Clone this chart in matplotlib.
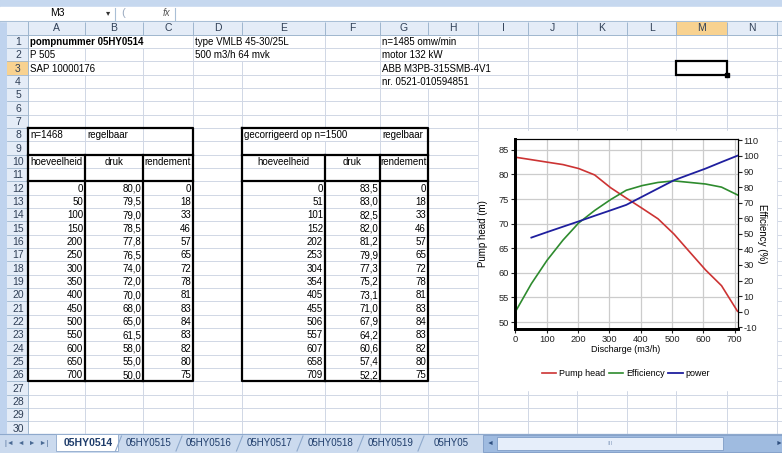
import matplotlib
matplotlib.use("Agg")
import matplotlib.pyplot as plt
from matplotlib.patches import Rectangle
from matplotlib.collections import LineCollection

plt.rcParams["font.family"] = ["Liberation Sans", "DejaVu Sans"]
plt.rcParams["axes.unicode_minus"] = False

# -----------------------------------------------------------------------------
# DATA  (pump 05HY0514)
# -----------------------------------------------------------------------------
flow_1468 = [0, 50, 100, 150, 200, 250, 300, 350, 400, 450, 500, 550, 600, 650, 700]
head_1468 = [80.0, 79.5, 79.0, 78.5, 77.8, 76.5, 74.0, 72.0, 70.0, 68.0, 65.0, 61.5, 58.0, 55.0, 50.0]
efficiency = [0, 18, 33, 46, 57, 65, 72, 78, 81, 83, 84, 83, 82, 80, 75]

flow_1500 = [0, 51, 101, 152, 202, 253, 304, 354, 405, 455, 506, 557, 607, 658, 709]
head_1500 = [83.5, 83.0, 82.5, 82.0, 81.2, 79.9, 77.3, 75.2, 73.1, 71.0, 67.9, 64.2, 60.6, 57.4, 52.2]

power_flow = flow_1500[1:]
power = [47.6, 51.1, 54.6, 58.0, 61.6, 65.1, 68.6, 73.9, 79.1, 84.4, 88.2, 91.9, 96.1, 100.2]

info_cells = [
    (1, "A", "pompnummer 05HY0514", True),
    (1, "D", "type VMLB 45-30/25L", False),
    (1, "G", "n=1485 omw/min", False),
    (2, "A", "P 505", False),
    (2, "D", "500 m3/h 64 mvk", False),
    (2, "G", "motor 132 kW", False),
    (3, "A", "SAP 10000176", False),
    (3, "G", "ABB M3PB-315SMB-4V1", False),
    (4, "G", "nr. 0521-010594851", False),
]
sheet_tabs = ["05HY0514", "05HY0515", "05HY0516", "05HY0517", "05HY0518", "05HY0519", "05HY05"]
col_letters = list("ABCDEFGHIJKLMN")

# -----------------------------------------------------------------------------
# SHEET GEOMETRY (pixels)
# -----------------------------------------------------------------------------
W, H = 782, 453
col_edges = [28, 85, 143, 193, 242, 325, 380, 428, 478, 528, 577, 627, 676, 727, 777, 830]
ROW0, ROWH = 34.8, 13.33
N_ROWS = 30
GRID = "#d0d7e5"
HDR_FILL = "#e4ecf7"
HDR_LINE = "#9eb6ce"
HDR_TEXT = "#2f3f56"
SEL_FILL = "#f8d290"
FS = 7


def col_x(letter):
    i = col_letters.index(letter)
    return col_edges[i], col_edges[i + 1]


def row_y(r):
    top = ROW0 + (r - 1) * ROWH
    return top, top + ROWH


fig = plt.figure(figsize=(W / 100, H / 100), dpi=100)
fig.patch.set_facecolor("#bfd3ee")
sh = fig.add_axes([0, 0, 1, 1])
sh.set_xlim(0, W)
sh.set_ylim(H, 0)
sh.axis("off")

# window chrome: top band, formula bar
sh.add_patch(Rectangle((0, 0), W, 7, color="#c6d8ef", zorder=0))
sh.add_patch(Rectangle((0, 7), W, 14, color="white", zorder=1))
sh.plot([0, W], [20.5, 20.5], color="#a9bfd6", lw=0.8, zorder=2)
sh.plot([115, 115], [8, 20], color="#a9bfd6", lw=0.8, zorder=2)
sh.plot([175, 175], [8, 20], color="#a9bfd6", lw=0.8, zorder=2)
sh.text(57, 13.5, "M3", fontsize=7.5, ha="center", va="center", zorder=3)
sh.text(108, 13.5, "\u25be", fontsize=6, ha="center", va="center", color="#333333", zorder=3)
sh.text(123, 13.5, "(", fontsize=8, ha="center", va="center", color="#9aaac0", zorder=3)
sh.text(166, 13.5, "fx", fontsize=7, style="italic", ha="center", va="center", color="#555555", zorder=3)

# cell area
sh.add_patch(Rectangle((28, 21), W - 28, 413, color="white", zorder=1))

# column headers
sh.add_patch(Rectangle((7, 21.5), W - 7, 13.3, facecolor=HDR_FILL, edgecolor="none", zorder=2))
for i, letter in enumerate(col_letters):
    x0, x1 = col_edges[i], col_edges[i + 1]
    if letter == "M":
        sh.add_patch(Rectangle((x0, 21.5), x1 - x0, 13.3, facecolor=SEL_FILL, edgecolor="none", zorder=2))
    sh.text((x0 + x1) / 2, 28.3, letter, fontsize=7.5, ha="center", va="center", color=HDR_TEXT, zorder=4)
hdr_lines = [[(x, 21.5), (x, 34.8)] for x in col_edges]
sh.add_collection(LineCollection(hdr_lines, colors=HDR_LINE, linewidths=0.7, zorder=3))
sh.plot([7, W], [34.8, 34.8], color=HDR_LINE, lw=0.7, zorder=3)

# row headers
for r in range(1, N_ROWS + 1):
    y0, y1 = row_y(r)
    fill = SEL_FILL if r == 3 else HDR_FILL
    sh.add_patch(Rectangle((7, y0), 21, ROWH, facecolor=fill, edgecolor="none", zorder=2))
    sh.plot([7, 28], [y1, y1], color=HDR_LINE, lw=0.6, zorder=3)
    sh.text(18, (y0 + y1) / 2 + 0.5, str(r), fontsize=7.5, ha="center", va="center", color=HDR_TEXT, zorder=4)
sh.plot([28, 28], [21.5, 434], color=HDR_LINE, lw=0.7, zorder=3)

# gridlines, hidden where text runs over into the next cell
hidden = {(1, "A"), (1, "B"), (1, "D"), (1, "G"), (2, "D"), (2, "G"),
          (3, "A"), (3, "G"), (3, "H"), (4, "G"), (8, "E")}
segs = []
for r in range(1, N_ROWS + 1):
    y0, y1 = row_y(r)
    segs.append([(28, y1), (W, y1)])
    for i, letter in enumerate(col_letters):
        if (r, letter) in hidden:
            continue
        x = col_edges[i + 1]
        segs.append([(x, y0), (x, y1)])
sh.add_collection(LineCollection(segs, colors=GRID, linewidths=0.7, zorder=2))

# header info text
for r, c, txt, bold in info_cells:
    x0, _ = col_x(c)
    y0, y1 = row_y(r)
    sh.text(x0 + 2, (y0 + y1) / 2 + 0.5, txt, fontsize=FS, ha="left", va="center",
            fontweight="bold" if bold else "normal", zorder=5)

# selected cell M3
mx0, mx1 = col_x("M")
my0, my1 = row_y(3)
sh.add_patch(Rectangle((mx0, my0), mx1 - mx0, my1 - my0, fill=False, edgecolor="black", lw=1.6, zorder=6))
sh.add_patch(Rectangle((mx1 - 2, my1 - 2), 4, 4, color="black", zorder=7))


def draw_table(cols, title, title2, flows, heads, effs):
    """Bordered table: title rows 8-9, headers 10-11, data 12-26."""
    xl, _ = col_x(cols[0])
    _, xr = col_x(cols[2])
    t8, _ = row_y(8)
    _, b9 = row_y(9)
    _, b11 = row_y(11)
    _, b26 = row_y(26)
    k = dict(color="black", lw=1.6, zorder=6, solid_capstyle="projecting")
    sh.plot([xl, xr, xr, xl, xl], [t8, t8, b26, b26, t8], **k)
    sh.plot([xl, xr], [b9, b9], **k)
    sh.plot([xl, xr], [b11, b11], **k)
    for x in (col_x(cols[0])[1], col_x(cols[1])[1]):
        sh.plot([x, x], [b9, b26], **k)

    y0, y1 = row_y(8)
    sh.text(xl + 2, (y0 + y1) / 2 + 0.5, title, fontsize=FS, va="center", zorder=7)
    tx = col_x(title2[0])[0]
    sh.text(tx + 2, (y0 + y1) / 2 + 0.5, title2[1], fontsize=FS, va="center", zorder=7)

    y0, y1 = row_y(10)
    for c, txt in zip(cols, ["hoeveelheid", "druk", "rendement"]):
        a, b = col_x(c)
        sh.text((a + b) / 2, (y0 + y1) / 2 + 0.5, txt, fontsize=FS, ha="center", va="center", zorder=7)

    for j, (q, h, e) in enumerate(zip(flows, heads, effs)):
        y0, y1 = row_y(12 + j)
        yc = (y0 + y1) / 2 + 0.5
        for c, txt in zip(cols, [f"{q}", f"{h:.1f}".replace(".", ","), f"{e}"]):
            sh.text(col_x(c)[1] - 2, yc, txt, fontsize=FS, ha="right", va="center", zorder=7)


draw_table("ABC", "n=1468", ("B", "regelbaar"), flow_1468, head_1468, efficiency)
draw_table("EFG", "gecorrigeerd op n=1500", ("G", "regelbaar"), flow_1500, head_1500, efficiency)

# sheet tabs and scroll bar
sh.add_patch(Rectangle((0, 434), W, 19, color="#cbdaee", zorder=8))
sh.plot([0, W], [434, 434], color="#8ea9cc", lw=0.8, zorder=9)
sh.text(27, 443.5, "|\u25c4  \u25c4  \u25ba  \u25ba|", fontsize=5, ha="center", va="center",
        color="#4a6a94", zorder=10)
for i, name in enumerate(sheet_tabs):
    xc = 88 + i * 60.5
    if i == 0:
        sh.add_patch(Rectangle((56, 434), 62, 17, facecolor="white", edgecolor="#8ea9cc", lw=0.6, zorder=9))
    else:
        sh.plot([xc - 33, xc - 27], [451, 436], color="#8ea9cc", lw=0.8, zorder=9)
    sh.text(xc, 443, name, fontsize=7.5 if i == 0 else 7, ha="center", va="center",
            fontweight="bold" if i == 0 else "normal", color="#1f3d6b", zorder=10)
sh.add_patch(Rectangle((483, 435), W - 483, 17, facecolor="#9fbbe0", edgecolor="#7f9cc6", lw=0.6, zorder=11))
sh.add_patch(Rectangle((497, 437), 226, 13, facecolor="#e6eefa", edgecolor="#7f9cc6", lw=0.6, zorder=12))
sh.text(490, 443.5, "\u25c4", fontsize=5, ha="center", va="center", color="#2f4f7f", zorder=12)
sh.text(610, 443.5, "III", fontsize=4.5, ha="center", va="center", color="#8aa0c0", zorder=13)
sh.text(779, 443.5, "\u25ba", fontsize=5, ha="center", va="center", color="#2f4f7f", zorder=12)

# -----------------------------------------------------------------------------
# EMBEDDED PUMP CHART
# -----------------------------------------------------------------------------
sh.add_patch(Rectangle((479, 131), 297, 259, color="white", zorder=8))

px0, px1, py0, py1 = 515.4, 737.5, 139, 329
ax = fig.add_axes([px0 / W, 1 - py1 / H, (px1 - px0) / W, (py1 - py0) / H])
ax.set_facecolor("white")
ax.set_xlim(0, 709)
ax.set_ylim(48.6, 87.2)
ax.set_xticks(range(0, 701, 100))
ax.set_yticks(range(50, 86, 5))
ax.grid(True, color="#cccccc", lw=0.9)
ax.set_axisbelow(True)

ax2 = ax.twinx()
ax2.set_ylim(-11.1, 110.9)
ax2.set_yticks(range(-10, 111, 10))

l_head, = ax.plot(flow_1500, head_1500, color="#cc3333", lw=1.2, label="Pump head")
l_eff, = ax2.plot(flow_1500, efficiency, color="#2e8b2e", lw=1.2, label="Efficiency")
l_pow, = ax2.plot(power_flow, power, color="#1f1f9e", lw=1.3, label="power")

for a in (ax, ax2):
    a.tick_params(labelsize=6.7, length=3, width=0.8, pad=1.5, direction="out", colors="#222222")
    a.spines["left"].set_linewidth(2)
    a.spines["bottom"].set_linewidth(2)
    a.spines["top"].set_linewidth(0.8)
    a.spines["right"].set_linewidth(0.8)

fig.text(626 / W, 1 - 350 / H, "Discharge (m3/h)", fontsize=6.5, ha="center", va="center")
fig.text(483 / W, 1 - 234 / H, "Pump head (m)", fontsize=7, rotation=90, ha="center", va="center")
fig.text(762 / W, 1 - 234 / H, "Efficiency (%)", fontsize=7, rotation=270, ha="center", va="center")

fig.legend(handles=[l_head, l_eff, l_pow], loc="center", bbox_to_anchor=(626 / W, 1 - 374 / H),
           ncol=3, frameon=False, fontsize=6.5, handlelength=1.6, handletextpad=0.3,
           columnspacing=0.4)

fig.savefig("out.png", dpi=100)
